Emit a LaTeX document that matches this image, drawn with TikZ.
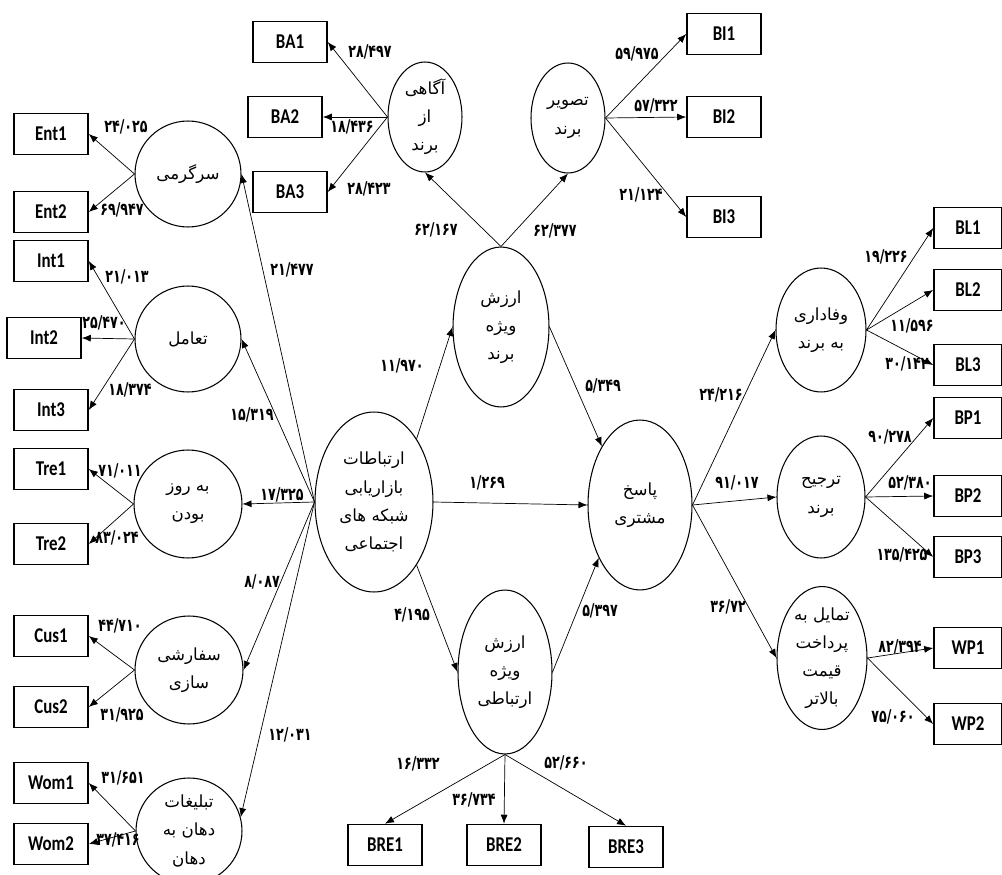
\documentclass[tikz,border=0pt]{standalone}
\usepackage{fontspec}
\usetikzlibrary{arrows.meta, shapes.geometric}
\TeXXeTstate=1
\newfontfamily\fafont[Script=Arabic]{DejaVu Sans}
\newfontfamily\numfont[FakeStretch=0.72]{DejaVu Sans}
\newfontfamily\boxfont[FakeStretch=0.8]{Carlito}
\newcommand{\fa}[1]{\beginR#1\endR}
\newcommand{\loadarrow}{-{Latex[length=1.8mm,width=1.4mm]}}
\tikzset{
  item/.style={draw, line width=0.9pt, minimum width=1.48cm, minimum height=0.82cm, inner sep=0pt,
    font=\boxfont\bfseries\fontsize{12}{12}\selectfont},
  latent/.style={draw, ellipse, semithick, inner sep=0pt, align=center,
    font=\fafont\fontsize{9.5}{16}\selectfont},
  coef/.style={inner sep=1pt, font=\numfont\bfseries\fontsize{10}{10}\selectfont}
}

\begin{document}
\begin{tikzpicture}[x=0.02cm, y=-0.02cm]
            \useasboundingbox (0,0) rectangle (1002,875);
            % constructs
            \node[latent, minimum width=2.36cm, minimum height=3.6cm] (smm) at (374,502) {\fa{ارتباطات}\\\fa{بازاریابی}\\\fa{شبکه های}\\\fa{اجتماعی}};
            \node[latent, minimum width=1.92cm, minimum height=3.2cm] (beq) at (501,327) {\fa{ارزش}\\\fa{ویژه}\\\fa{برند}};
            \node[latent, minimum width=1.88cm, minimum height=3.28cm] (req) at (505,672) {\fa{ارزش}\\\fa{ویژه}\\\fa{ارتباطی}};
            \node[latent, minimum width=2.08cm, minimum height=3.4cm] (resp) at (640,505) {\fa{پاسخ}\\\fa{مشتری}};
            \node[latent, minimum width=1.48cm, minimum height=2.2cm] (aware) at (425,117) {\fa{آگاهی}\\\fa{از}\\\fa{برند}};
            \node[latent, minimum width=1.48cm, minimum height=2.2cm] (image) at (568,118) {\fa{تصویر}\\\fa{برند}};
            \node[latent, minimum width=2.12cm, minimum height=2.12cm] (ent) at (188,174) {\fa{سرگرمی}};
            \node[latent, minimum width=2.12cm, minimum height=2.12cm] (inter) at (188,339) {\fa{تعامل}};
            \node[latent, minimum width=2.16cm, minimum height=2.16cm] (trend) at (188,504) {\fa{به روز}\\\fa{بودن}};
            \node[latent, minimum width=2.16cm, minimum height=2.16cm] (cust) at (189,670) {\fa{سفارشی}\\\fa{سازی}};
            \node[latent, minimum width=2.12cm, minimum height=2.12cm] (wom) at (189,831) {\fa{تبلیغات}\\\fa{دهان به}\\\fa{دهان}};
            \node[latent, minimum width=1.8cm, minimum height=2.48cm] (loyal) at (821,330) {\fa{وفاداری}\\\fa{به برند}};
            \node[latent, minimum width=1.76cm, minimum height=2.44cm] (pref) at (821,497) {\fa{ترجیح}\\\fa{برند}};
            \node[latent, minimum width=1.8cm, minimum height=2.64cm] (wtp) at (822,658) {\fa{تمایل به}\\\fa{پرداخت}\\\fa{قیمت}\\\fa{بالاتر}};
            % indicators
            \node[item] (BA1) at (290,42) {BA1};
            \node[item] (BA2) at (285,117) {BA2};
            \node[item] (BA3) at (290,192) {BA3};
            \node[item] (BI1) at (724,34) {BI1};
            \node[item] (BI2) at (724,117) {BI2};
            \node[item] (BI3) at (724,217) {BI3};
            \node[item] (Ent1) at (51,134) {Ent1};
            \node[item] (Ent2) at (51,212) {Ent2};
            \node[item] (Int1) at (51,261) {Int1};
            \node[item] (Int2) at (44,338) {Int2};
            \node[item] (Int3) at (51,410) {Int3};
            \node[item] (Tre1) at (51,469) {Tre1};
            \node[item] (Tre2) at (51,544) {Tre2};
            \node[item] (Cus1) at (51,636) {Cus1};
            \node[item] (Cus2) at (51,707) {Cus2};
            \node[item] (Wom1) at (51,783) {Wom1};
            \node[item] (Wom2) at (51,844) {Wom2};
            \node[item, minimum width=1.36cm] (BL1) at (968,228) {BL1};
            \node[item, minimum width=1.36cm] (BL2) at (968,290) {BL2};
            \node[item, minimum width=1.36cm] (BL3) at (968,365) {BL3};
            \node[item, minimum width=1.36cm] (BP1) at (968,418) {BP1};
            \node[item, minimum width=1.36cm] (BP2) at (968,496) {BP2};
            \node[item, minimum width=1.36cm] (BP3) at (968,557) {BP3};
            \node[item, minimum width=1.36cm] (WP1) at (968,648) {WP1};
            \node[item, minimum width=1.36cm] (WP2) at (968,724) {WP2};
            \node[item] (BRE1) at (385,845) {BRE1};
            \node[item] (BRE2) at (504,845) {BRE2};
            \node[item] (BRE3) at (626,847) {BRE3};
            % structural paths
            \draw[\loadarrow] (smm.west) -- (ent.east);
            \draw[\loadarrow] (smm.west) -- (inter.east);
            \draw[\loadarrow] (smm.west) -- (trend.east);
            \draw[\loadarrow] (smm.west) -- (cust.east);
            \draw[\loadarrow] (smm.west) -- (wom.15);
            \draw[\loadarrow] (smm.56) -- (beq.west);
            \draw[\loadarrow] (smm.east) -- (resp.west);
            \draw[\loadarrow] (smm.-56) -- (req.west);
            \draw[\loadarrow] (beq.east) -- (resp.123);
            \draw[\loadarrow] (req.east) -- (resp.-128);
            \draw[\loadarrow] (beq.north) -- (aware.south);
            \draw[\loadarrow] (beq.north) -- (image.south);
            \draw[\loadarrow] (resp.east) -- (loyal.west);
            \draw[\loadarrow] (resp.east) -- (pref.west);
            \draw[\loadarrow] (resp.east) -- (wtp.west);
            % loadings
            \draw[\loadarrow] (aware.west) -- (BA1.east);
            \draw[\loadarrow] (aware.west) -- (BA2.east);
            \draw[\loadarrow] (aware.west) -- (BA3.east);
            \draw[\loadarrow] (image.east) -- (BI1.west);
            \draw[\loadarrow] (image.east) -- (BI2.west);
            \draw[\loadarrow] (image.east) -- (BI3.west);
            \draw[\loadarrow] (ent.west) -- (Ent1.east);
            \draw[\loadarrow] (ent.west) -- (Ent2.east);
            \draw[\loadarrow] (inter.west) -- (Int1.east);
            \draw[\loadarrow] (inter.west) -- (Int2.east);
            \draw[\loadarrow] (inter.west) -- (Int3.east);
            \draw[\loadarrow] (trend.west) -- (Tre1.east);
            \draw[\loadarrow] (trend.west) -- (Tre2.east);
            \draw[\loadarrow] (cust.west) -- (Cus1.east);
            \draw[\loadarrow] (cust.west) -- (Cus2.east);
            \draw[\loadarrow] (wom.west) -- (Wom1.east);
            \draw[\loadarrow] (wom.west) -- (Wom2.east);
            \draw[\loadarrow] (loyal.east) -- (BL1.west);
            \draw[\loadarrow] (loyal.east) -- (BL2.west);
            \draw[\loadarrow] (loyal.east) -- (BL3.west);
            \draw[\loadarrow] (pref.east) -- (BP1.west);
            \draw[\loadarrow] (pref.east) -- (BP2.west);
            \draw[\loadarrow] (pref.east) -- (BP3.west);
            \draw[\loadarrow] (wtp.east) -- (WP1.west);
            \draw[\loadarrow] (wtp.east) -- (WP2.west);
            \draw[\loadarrow] (req.south) -- (BRE1.north);
            \draw[\loadarrow] (req.south) -- (BRE2.north);
            \draw[\loadarrow] (req.south) -- (BRE3.north);
            % t values
            \node[coef] (tBA1) at (370,52) {۲۸/۴۹۷};
            \node[coef] (tBA2) at (352,127) {۱۸/۴۳۶};
            \node[coef] (tBA3) at (369,189) {۲۸/۴۲۳};
            \node[coef] (taware) at (436,230) {۶۲/۱۶۷};
            \node[coef] (timage) at (555,231) {۶۲/۳۷۷};
            \node[coef] (tBI1) at (637,54) {۵۹/۹۷۵};
            \node[coef] (tBI2) at (656,106) {۵۷/۳۲۲};
            \node[coef] (tBI3) at (641,195) {۲۱/۱۲۴};
            \node[coef] (tEnt1) at (126,127) {۲۴/۰۲۵};
            \node[coef] (tEnt2) at (122,210) {۶۹/۹۴۷};
            \node[coef] (tent) at (292,270) {۲۱/۴۷۷};
            \node[coef] (tInt1) at (127,277) {۲۱/۰۱۳};
            \node[coef] (tInt2) at (104,323) {۲۵/۴۷۰};
            \node[coef] (tInt3) at (130,390) {۱۸/۳۷۴};
            \node[coef] (tinter) at (252,415) {۱۵/۳۱۹};
            \node[coef] (tTre1) at (120,471) {۷۱/۰۱۱};
            \node[coef] (ttrend) at (282,495) {۱۷/۳۲۵};
            \node[coef] (tTre2) at (117,538) {۸۳/۰۲۴};
            \node[coef] (tcust) at (262,582) {۸/۰۸۷};
            \node[coef] (tCus1) at (120,626) {۴۴/۷۱۰};
            \node[coef] (tCus2) at (122,715) {۳۱/۹۲۵};
            \node[coef] (twom) at (290,735) {۱۲/۰۳۱};
            \node[coef] (tWom1) at (123,778) {۳۱/۶۵۱};
            \node[coef] (tWom2) at (118,840) {۳۷/۴۱۶};
            \node[coef] (tbeq) at (402,366) {۱۱/۹۷۰};
            \node[coef] (tbeqresp) at (603,386) {۵/۳۴۹};
            \node[coef] (tresp) at (487,483) {۱/۲۶۹};
            \node[coef] (treq) at (412,615) {۴/۱۹۵};
            \node[coef] (treqresp) at (600,611) {۵/۳۹۷};
            \node[coef] (tBRE1) at (418,764) {۱۶/۳۳۲};
            \node[coef] (tBRE2) at (474,800) {۳۶/۷۳۴};
            \node[coef] (tBRE3) at (566,763) {۵۲/۶۶۰};
            \node[coef] (tloyal) at (721,395) {۲۴/۲۱۶};
            \node[coef] (tpref) at (737,483) {۹۱/۰۱۷};
            \node[coef] (twtp) at (728,607) {۳۶/۷۲};
            \node[coef] (tBL1) at (886,257) {۱۹/۲۲۶};
            \node[coef] (tBL2) at (912,326) {۱۱/۵۹۶};
            \node[coef] (tBL3) at (907,364) {۳۰/۱۴۲};
            \node[coef] (tBP1) at (890,437) {۹۰/۲۷۸};
            \node[coef] (tBP2) at (910,483) {۵۲/۳۸۰};
            \node[coef] (tBP3) at (902,555) {۱۳۵/۴۲۵};
            \node[coef] (tWP1) at (900,647) {۸۲/۳۹۴};
            \node[coef] (tWP2) at (893,717) {۷۵/۰۶۰};
        \end{tikzpicture}
\end{document}
